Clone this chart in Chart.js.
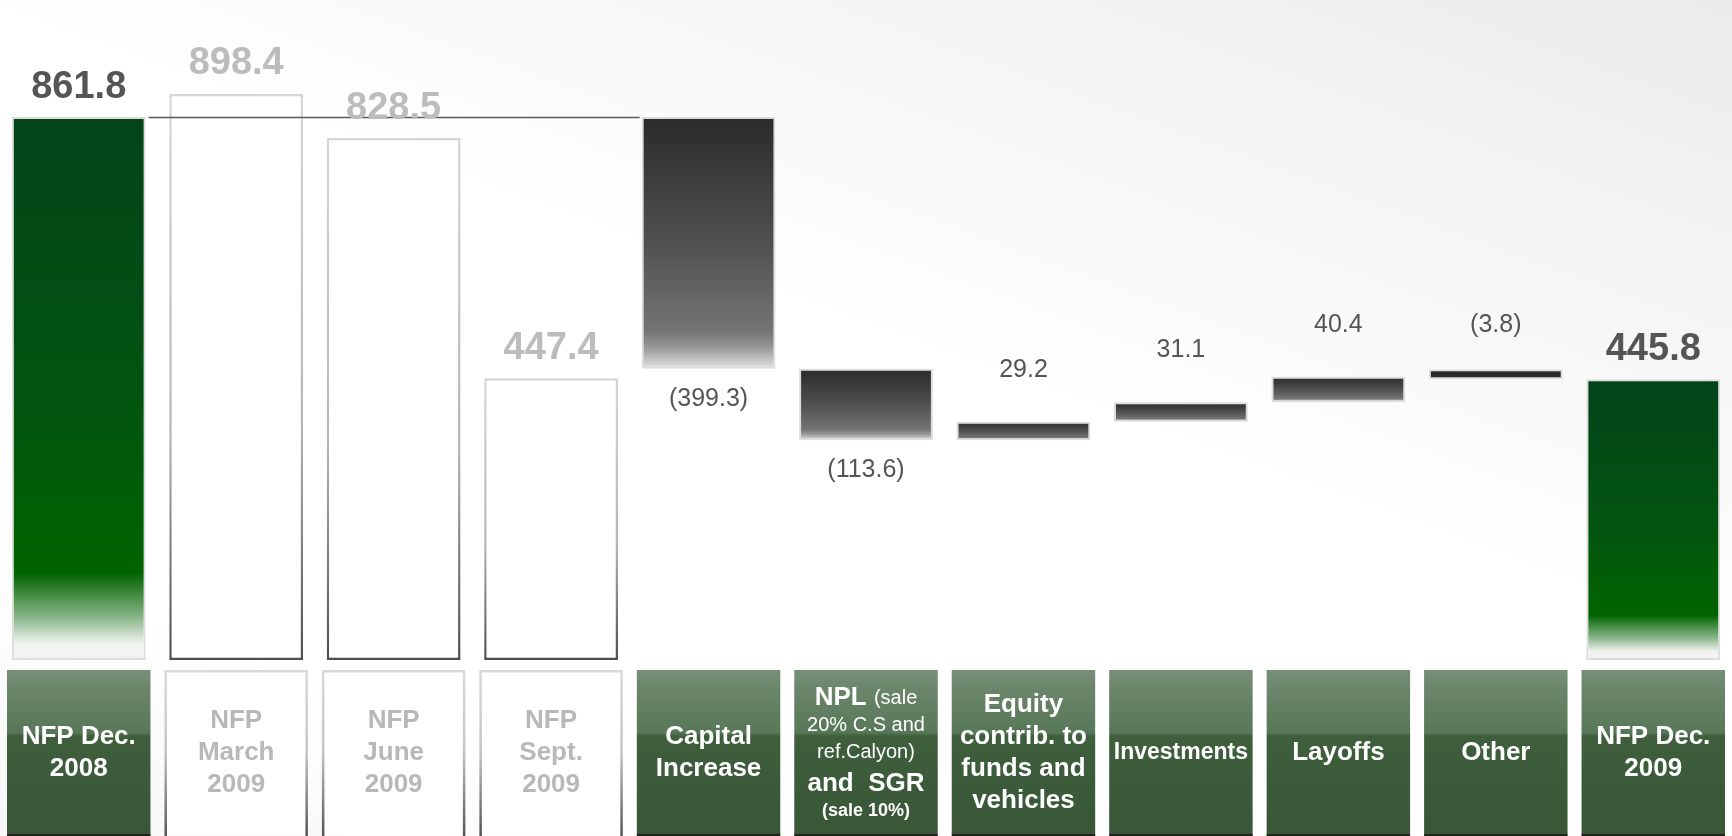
<!DOCTYPE html>
<html>
<head>
<meta charset="utf-8">
<title>NFP bridge 2008-2009</title>
<script src="https://cdn.jsdelivr.net/npm/chart.js@4"></script>
<style>
  html, body { margin: 0; padding: 0; }
  body {
    width: 1732px; height: 836px; overflow: hidden;
    background: linear-gradient(200deg, #ebebeb 0%, #f5f5f5 22%, #ffffff 45%, #ffffff 80%, #f7f7f7 100%);
  }
  #wrap { position: relative; width: 1732px; height: 836px; }
</style>
</head>
<body>
<div id="wrap"><canvas id="nfpChart"></canvas></div>
<script>
// category captions, one entry per line
const categories = [
  ["NFP Dec.", "2008"],
  ["NFP", "March", "2009"],
  ["NFP", "June", "2009"],
  ["NFP", "Sept.", "2009"],
  ["Capital", "Increase"],
  ["NPL (sale", "20% C.S and", "ref.Calyon)", "and  SGR", "(sale 10%)"],
  ["Equity", "contrib. to", "funds and", "vehicles"],
  ["Investments"],
  ["Layoffs"],
  ["Other"],
  ["NFP Dec.", "2009"]
];

const openingNfp = 861.8;
const quarterNfp = [898.4, 828.5, 447.4];
const movements = [-399.3, -113.6, 29.2, 31.1, 40.4, -3.8];
const closingNfp = 445.8;

// build the floating ranges of the bridge
const ranges = [[0, openingNfp]];
const kinds = ["total"];
quarterNfp.forEach(function(v) { ranges.push([0, v]); kinds.push("quarter"); });
let running = openingNfp;
movements.forEach(function(m) {
  ranges.push([running, running + m]);
  kinds.push("move");
  running += m;
});
ranges.push([0, closingNfp]);
kinds.push("total");
const labelValues = [openingNfp].concat(quarterNfp, movements, [closingNfp]);

// where the small movement labels sit
const labelSide = [null, null, null, null, "below", "below", "above", "above", "above", "above", null];

const FONT = "'Liberation Sans', Arial, Helvetica, sans-serif";
const MIN_BAR = 10;

function fmt(v) {
  return v < 0 ? "(" + Math.abs(v).toFixed(1) + ")" : v.toFixed(1);
}

function barExtent(chart, i) {
  const y = chart.scales.y;
  const r = ranges[i];
  const p0 = y.getPixelForValue(r[0]);
  let p1 = y.getPixelForValue(r[1]);
  if (Math.abs(p1 - p0) < MIN_BAR) p1 = p0 + (r[1] < r[0] ? MIN_BAR : -MIN_BAR);
  return { top: Math.min(p0, p1), bottom: Math.max(p0, p1) };
}

function barFill(context) {
  const chart = context.chart;
  const i = context.dataIndex;
  if (!chart.chartArea) return "#444";
  if (kinds[i] === "quarter") return "#ffffff";
  const e = barExtent(chart, i);
  const g = chart.ctx.createLinearGradient(0, e.top, 0, e.bottom);
  if (kinds[i] === "total") {
    g.addColorStop(0, "#03441a");
    g.addColorStop(0.5, "#025310");
    g.addColorStop(0.84, "#006400");
    g.addColorStop(0.92, "#86b486");
    g.addColorStop(0.97, "#f1f3f1");
    g.addColorStop(1, "#f2f2f2");
  } else {
    g.addColorStop(0, "#2a2a2a");
    g.addColorStop(0.5, "#505050");
    g.addColorStop(0.85, "#747474");
    g.addColorStop(0.92, "#9a9a9a");
    g.addColorStop(1, "#e4e4e4");
  }
  return g;
}

function barBorder(context) {
  const chart = context.chart;
  const i = context.dataIndex;
  if (kinds[i] !== "quarter" || !chart.chartArea) return "#dcdcdc";
  const e = barExtent(chart, i);
  const g = chart.ctx.createLinearGradient(0, e.top, 0, e.bottom);
  g.addColorStop(0, "#d6d6d6");
  g.addColorStop(0.6, "#b4b4b4");
  g.addColorStop(1, "#4e4e4e");
  return g;
}

// connector, value labels and caption boxes
const bridgeDecor = {
  id: "bridgeDecor",
  afterDatasetsDraw: function(chart) {
    const ctx = chart.ctx;
    const bars = chart.getDatasetMeta(0).data;
    const y = chart.scales.y;

    // connector from opening NFP to the capital increase
    const ly = Math.round(y.getPixelForValue(openingNfp)) + 0.5;
    ctx.save();
    ctx.strokeStyle = "#5a5a5a";
    ctx.lineWidth = 1.5;
    ctx.beginPath();
    ctx.moveTo(bars[0].x + bars[0].width / 2 + 3, ly);
    ctx.lineTo(bars[4].x - bars[4].width / 2 - 2, ly);
    ctx.stroke();

    // value labels
    ctx.textAlign = "center";
    ctx.textBaseline = "middle";
    bars.forEach(function(bar, i) {
      const e = barExtent(chart, i);
      const text = fmt(labelValues[i]);
      if (kinds[i] === "move") {
        ctx.font = "25px " + FONT;
        ctx.fillStyle = "#555555";
        const py = labelSide[i] === "below" ? e.bottom + 30 : e.top - 52;
        ctx.fillText(text, bar.x, py);
      } else {
        ctx.font = "bold 38px " + FONT;
        ctx.fillStyle = kinds[i] === "quarter" ? "#bcbcbc" : "#555555";
        ctx.fillText(text, bar.x, e.top - 30);
      }
    });

    // caption boxes under the bars
    const x = chart.scales.x;
    const step = x.getPixelForValue(1) - x.getPixelForValue(0);
    const bw = step - 14;
    const bTop = chart.chartArea.bottom + 10;
    const bBot = chart.height - 1;
    const bH = bBot - bTop;
    const midY = bTop + bH / 2;

    categories.forEach(function(lines, i) {
      const cx = x.getPixelForValue(i);
      const bx = cx - bw / 2;
      if (kinds[i] === "quarter") {
        ctx.fillStyle = "#ffffff";
        ctx.fillRect(bx, bTop, bw, bH);
        const sg = ctx.createLinearGradient(0, bTop, 0, bBot);
        sg.addColorStop(0, "#dadada");
        sg.addColorStop(0.5, "#c4c4c4");
        sg.addColorStop(1, "#555555");
        ctx.strokeStyle = sg;
        ctx.lineWidth = 2.5;
        ctx.strokeRect(bx + 1.25, bTop + 1.25, bw - 2.5, bH + 2);
      } else {
        const g = ctx.createLinearGradient(0, bTop, 0, bBot);
        g.addColorStop(0, "#778f77");
        g.addColorStop(0.12, "#6a856a");
        g.addColorStop(0.38, "#587758");
        g.addColorStop(0.4, "#3e5e3c");
        g.addColorStop(1, "#395737");
        ctx.fillStyle = g;
        ctx.fillRect(bx, bTop, bw, bH);
        ctx.fillStyle = "#222222";
        ctx.fillRect(bx, bBot - 1, bw, 2);
      }

      ctx.fillStyle = kinds[i] === "quarter" ? "#b8b8b8" : "#ffffff";
      ctx.textBaseline = "middle";
      if (i === 5) {
        // mixed weights in the NPL caption
        const fonts = ["", "20px ", "20px ", "bold 26px ", "bold 18px "];
        const gaps = [0, 28, 27, 31, 28];
        let ty = midY - 55;
        lines.forEach(function(line, k) {
          ty += gaps[k];
          if (k === 0) {
            const head = line.split(" ")[0] + " ";
            const tail = line.slice(head.length);
            ctx.font = "bold 26px " + FONT;
            const w1 = ctx.measureText(head).width;
            ctx.font = "20px " + FONT;
            const w2 = ctx.measureText(tail).width;
            const sx = cx - (w1 + w2) / 2;
            ctx.textAlign = "left";
            ctx.font = "bold 26px " + FONT;
            ctx.fillText(head, sx, ty);
            ctx.font = "20px " + FONT;
            ctx.fillText(tail, sx + w1, ty + 1);
            ctx.textAlign = "center";
          } else {
            ctx.font = fonts[k] + FONT;
            ctx.fillText(line, cx, ty);
          }
        });
      } else {
        const size = lines[0].length > 9 ? 23 : 26;
        ctx.font = "bold " + size + "px " + FONT;
        const lh = 32;
        const start = midY - (lines.length - 1) * lh / 2;
        lines.forEach(function(line, k) {
          ctx.fillText(line, cx, start + k * lh);
        });
      }
    });
    ctx.restore();
  }
};

document.addEventListener("DOMContentLoaded", function() {
  const ctx = document.getElementById("nfpChart").getContext("2d");
  new Chart(ctx, {
    type: "bar",
    data: {
      labels: categories,
      datasets: [{
        data: ranges,
        backgroundColor: barFill,
        borderColor: barBorder,
        borderWidth: function(c) { return kinds[c.dataIndex] === "quarter" ? 2.5 : 2; },
        borderSkipped: false,
        minBarLength: MIN_BAR,
        barPercentage: 0.85,
        categoryPercentage: 1
      }]
    },
    options: {
      responsive: true,
      maintainAspectRatio: false,
      animation: false,
      layout: { padding: { top: 30, right: 0, bottom: 176, left: 0 } },
      plugins: {
        legend: { display: false },
        tooltip: { enabled: false }
      },
      scales: {
        x: { display: false, grid: { display: false } },
        y: { display: false, min: 0, max: 1000 }
      }
    },
    plugins: [bridgeDecor]
  });
});
</script>
</body>
</html>
